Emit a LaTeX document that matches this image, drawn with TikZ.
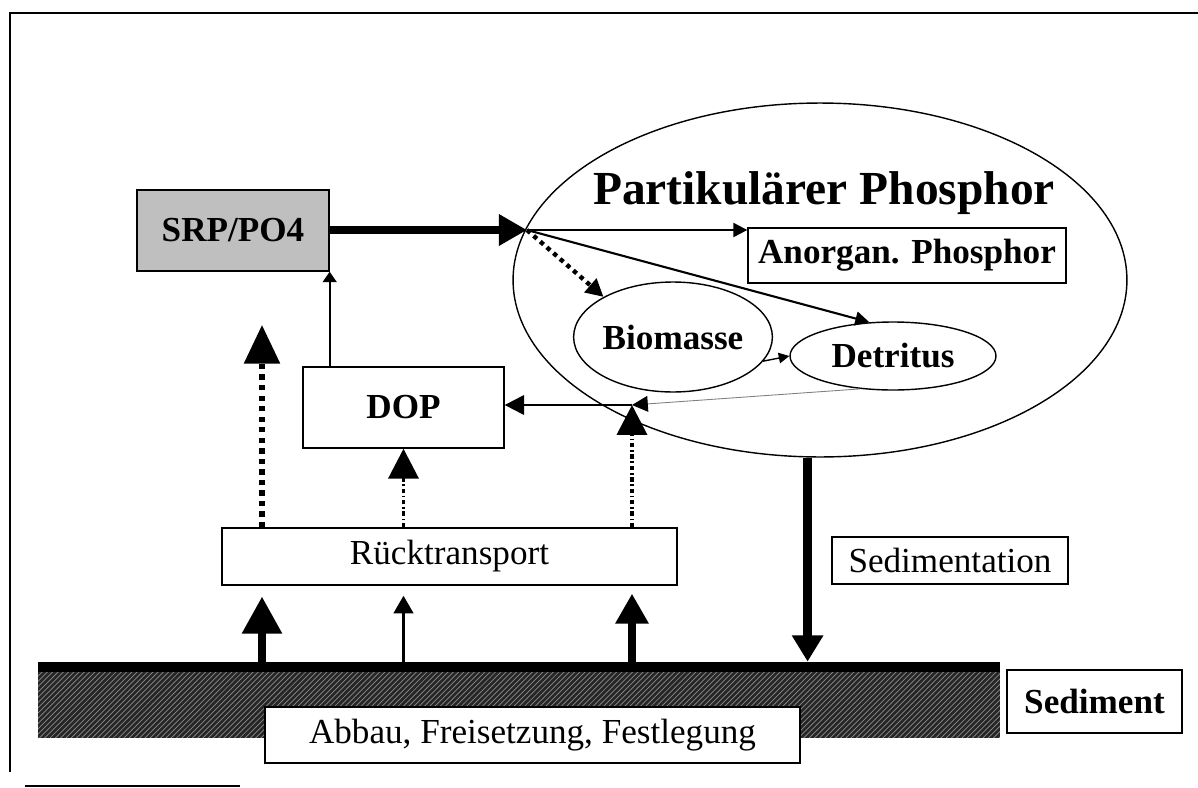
\documentclass[tikz,border=0pt]{standalone}
\usepackage{tikz}
\usepackage{fontspec}
\setmainfont{Liberation Serif}
\usetikzlibrary{arrows.meta,shapes.geometric,patterns}

\begin{document}
\begin{tikzpicture}[x=0.02cm,y=-0.02cm,
        box/.style={draw,rectangle,line width=0.8pt,inner sep=0pt,font=\fontsize{20}{24}\selectfont},
        bbox/.style={box,font=\bfseries\fontsize{20}{24}\selectfont},
        oval/.style={draw,ellipse,line width=0.8pt,inner sep=0pt,font=\bfseries\fontsize{20}{24}\selectfont},
        tip/.style={-{Triangle[length=#1,width=#1]}},
        dashdot/.style={line width=2.2pt,dash pattern=on 2.5pt off 1.5pt on 1pt off 1.5pt}]
        \useasboundingbox (0,0) rectangle (1198,788);
        \draw[line width=1.6pt](10,772)--(10,13)--(1198,13);
        \draw[line width=1.6pt](25,786)--(240,786);

        \node[oval,minimum width=12.28cm,minimum height=7.08cm](part) at (820,280) {};
        \node[anchor=base,font=\bfseries\fontsize{27}{32}\selectfont](title) at (824,204) {Partikulärer Phosphor};
        \node[bbox,fill=black!25,minimum width=3.84cm,minimum height=1.62cm](srp) at (233,230.5) {SRP/PO4};
        \node[bbox,minimum width=6.36cm,minimum height=1.1cm](anorg) at (907,255.5) {Anorgan. Phosphor};
        \node[oval,minimum width=3.72cm,minimum height=2.2cm](bio) at (673,337) {Biomasse};
        \node[oval,minimum width=4.12cm,minimum height=1.36cm](det) at (893,356) {Detritus};
        \node[bbox,minimum width=4.02cm,minimum height=1.62cm](dop) at (403.5,407.5) {DOP};
        \node[box,minimum width=9.1cm,minimum height=1.14cm](rueck) at (449.5,556.5) {Rücktransport};
        \node[box,minimum width=4.72cm,minimum height=0.94cm](sedim) at (950,560.5) {Sedimentation};
        \node[fill=black!85,postaction={pattern=north east lines,pattern color=black!45},inner sep=0pt,
              minimum width=19.24cm,minimum height=1.52cm](bar) at (519,700) {};
        \draw[line width=6pt]([yshift=-3pt]bar.north west)--([yshift=-3pt]bar.north east);
        \node[box,fill=white,minimum width=10.7cm,minimum height=1.12cm](abbau) at (532.5,735) {Abbau, Freisetzung, Festlegung};
        \node[bbox,minimum width=3.5cm,minimum height=1.26cm](sed) at (1094.5,701.5) {Sediment};

        \coordinate(hub) at (527,230);
        \coordinate(jn) at (632,405);
        \coordinate(ltip) at (262,325);

        \draw[line width=4.5pt,-{Triangle[length=16pt,width=17pt]}](srp.east|-hub)--(hub);
        \draw[line width=1.2pt,tip=8pt](hub)--(anorg.west|-hub);
        \draw[line width=2.5pt,dash pattern=on 2.5pt off 2.5pt,tip=10pt](hub)--(bio.150);
        \draw[line width=1.2pt,tip=8pt](hub)--(det.125);
        \draw[line width=0.8pt,tip=6pt](bio.-15)--(det.west);
        \draw[gray,line width=0.5pt,-{Triangle[length=9pt,width=9pt,color=black]}](det.225)--(jn);
        \draw[line width=1.4pt,tip=11pt](jn)--(dop.east|-jn);
        \draw[line width=1pt,-{Triangle[length=6pt,width=8pt]}](srp.south east|-dop.north)--(srp.south east);

        \draw[line width=3pt,dash pattern=on 3pt off 3pt,-{Triangle[length=22pt,width=20pt]}](rueck.north-|ltip)--(ltip);
        \draw[dashdot,tip=17pt](rueck.north-|dop.south)--(dop.south);
        \draw[dashdot,tip=17pt](rueck.north-|jn)--(jn);

        \draw[line width=4pt,shorten >=2.2mm,-{Triangle[length=21pt,width=22pt]}](bar.north-|ltip)--(rueck.south-|ltip);
        \draw[line width=1.8pt,shorten >=2mm,-{Triangle[length=10pt,width=11pt]}](bar.north-|dop.south)--(rueck.south-|dop.south);
        \draw[line width=4pt,shorten >=1.6mm,-{Triangle[length=17pt,width=18pt]}](bar.north-|jn)--(rueck.south-|jn);
        \draw[line width=5pt,-{Triangle[length=15pt,width=17pt]}](part.266)--(bar.north-|part.266);
\end{tikzpicture}
\end{document}
